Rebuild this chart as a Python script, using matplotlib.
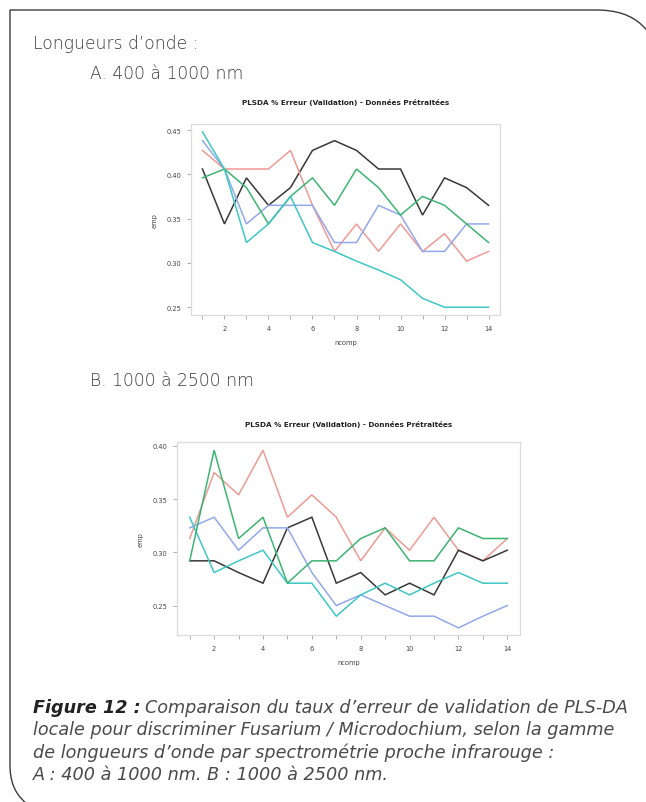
import matplotlib
matplotlib.use("Agg")
import matplotlib.pyplot as plt
from matplotlib.path import Path
from matplotlib.patches import PathPatch

# ---------------------------------------------------------------
# Data: validation error of PLS-DA per number of components
# ---------------------------------------------------------------
ncomp = list(range(1, 15))

# A. 400 - 1000 nm
a_black = [0.406, 0.344, 0.396, 0.365, 0.385, 0.427, 0.438, 0.427, 0.406, 0.406, 0.354, 0.396, 0.385, 0.365]
a_green = [0.396, 0.406, 0.385, 0.344, 0.375, 0.396, 0.365, 0.406, 0.385, 0.354, 0.375, 0.365, 0.344, 0.323]
a_red = [0.427, 0.406, 0.406, 0.406, 0.427, 0.365, 0.313, 0.344, 0.313, 0.344, 0.313, 0.333, 0.302, 0.313]
a_blue = [0.438, 0.406, 0.344, 0.365, 0.365, 0.365, 0.323, 0.323, 0.365, 0.354, 0.313, 0.313, 0.344, 0.344]
a_cyan = [0.448, 0.406, 0.323, 0.344, 0.375, 0.323, 0.313, 0.302, 0.292, 0.281, 0.260, 0.250, 0.250, 0.250]

# B. 1000 - 2500 nm
b_black = [0.292, 0.292, 0.281, 0.271, 0.323, 0.333, 0.271, 0.281, 0.260, 0.271, 0.260, 0.302, 0.292, 0.302]
b_green = [0.292, 0.396, 0.313, 0.333, 0.271, 0.292, 0.292, 0.313, 0.323, 0.292, 0.292, 0.323, 0.313, 0.313]
b_red = [0.313, 0.375, 0.354, 0.396, 0.333, 0.354, 0.333, 0.292, 0.323, 0.302, 0.333, 0.302, 0.292, 0.313]
b_blue = [0.323, 0.333, 0.302, 0.323, 0.323, 0.281, 0.250, 0.260, 0.250, 0.240, 0.240, 0.229, 0.240, 0.250]
b_cyan = [0.333, 0.281, 0.292, 0.302, 0.271, 0.271, 0.240, 0.260, 0.271, 0.260, 0.271, 0.281, 0.271, 0.271]

a_yticks = [0.25, 0.30, 0.35, 0.40, 0.45]
b_yticks = [0.25, 0.30, 0.35, 0.40]
xtick_labels = ["", "2", "", "4", "", "6", "", "8", "", "10", "", "12", "", "14"]

chart_title = "PLSDA % Erreur (Validation) - Données Prétraitées"

COLORS = {
    "red": "#ee9a96",
    "green": "#3cb472",
    "blue": "#93a8ec",
    "cyan": "#3ec7c4",
    "black": "#383838",
}

W, H = 646, 803
TXT = "#4a4a4a"
BODY_FONT = ["DejaVu Sans"]

fig = plt.figure(figsize=(W / 100, H / 100), dpi=100)
fig.patch.set_facecolor("white")
renderer = fig.canvas.get_renderer()


def px_rect(left, top, right, bottom):
    return [left / W, 1 - bottom / H, (right - left) / W, (bottom - top) / H]


def fit_width(txt, width_px):
    # rescale a text so that it spans the given number of pixels
    w = txt.get_window_extent(renderer=renderer).width
    txt.set_fontsize(txt.get_fontsize() * width_px / w)
    return txt


def draw_panel(rect, series, yticks, ylim, title_y):
    ax = fig.add_axes(rect)
    for key, vals in series:
        ax.plot(ncomp, vals, color=COLORS[key], lw=1.1, solid_joinstyle="miter")
    ax.set_xlim(0.48, 14.52)
    ax.set_ylim(*ylim)
    ax.set_xticks(ncomp)
    ax.set_xticklabels(xtick_labels)
    ax.set_yticks(yticks)
    ax.set_yticklabels([f"{v:.2f}" for v in yticks])
    for sp in ax.spines.values():
        sp.set_color("#dcdcdc")
        sp.set_linewidth(0.9)
    ax.tick_params(axis="both", length=3, width=0.7, color="#b0b0b0",
                   labelsize=4.8, labelcolor="#444444", pad=4)
    ax.set_xlabel("ncomp", fontsize=4.8, color="#444444", labelpad=6)
    ax.set_ylabel("emp", fontsize=4.8, color="#444444", labelpad=6)
    fig.text(rect[0] + rect[2] / 2, 1 - title_y / H, chart_title,
             fontsize=5.2, fontweight="bold", color="#222222",
             ha="center", va="center")
    return ax


draw_panel(px_rect(191, 125, 500, 316),
           [("black", a_black), ("red", a_red), ("blue", a_blue),
            ("green", a_green), ("cyan", a_cyan)],
           a_yticks, (0.2412, 0.4568), 103)

draw_panel(px_rect(177, 443, 520, 636),
           [("red", b_red), ("black", b_black), ("blue", b_blue),
            ("cyan", b_cyan), ("green", b_green)],
           b_yticks, (0.2223, 0.4037), 425)

# headings, one shared size
head_kw = dict(fontsize=10, color="#3a3a3a", family=BODY_FONT, fontweight=200,
               va="center")
h1 = fig.text(33 / W, 1 - 44 / H, "Longueurs d’onde :", **head_kw)
h2 = fig.text(90 / W, 1 - 74 / H, "A. 400 à 1000 nm", **head_kw)
h3 = fig.text(90 / W, 1 - 381 / H, "B. 1000 à 2500 nm", **head_kw)
sizes = [fit_width(h1, 152).get_fontsize(), fit_width(h2, 165).get_fontsize()]
head_size = sum(sizes) / len(sizes)
for h in (h1, h2, h3):
    h.set_fontsize(head_size)

# caption
cap_lines = [
    "Comparaison du taux d’erreur de validation de PLS-DA",
    "locale pour discriminer Fusarium / Microdochium, selon la gamme",
    "de longueurs d’onde par spectrométrie proche infrarouge :",
    "A : 400 à 1000 nm. B : 1000 à 2500 nm.",
]
cap_y = [708, 730.5, 753, 775.5]
cap_kw = dict(fontsize=10, color=TXT, family=BODY_FONT, fontweight=200,
              fontstyle="italic", va="center")

# second caption line sets the common size
probe = fig.text(33 / W, 1 - cap_y[1] / H, cap_lines[1], **cap_kw)
fit_width(probe, 582)
cap_kw["fontsize"] = probe.get_fontsize()
for txt, yy in zip(cap_lines[2:], cap_y[2:]):
    fig.text(33 / W, 1 - yy / H, txt, **cap_kw)

lead = fig.text(33 / W, 1 - cap_y[0] / H, "Figure 12 :",
                **{**cap_kw, "fontweight": "bold", "color": "#222222"})
bb = lead.get_window_extent(renderer=renderer)
fig.text((bb.x1 + 4) / W, 1 - cap_y[0] / H, cap_lines[0], **cap_kw)

# card outline: square top-left, rounded top-right and bottom-left
pts = [(52, 818), (26, 808), (10, 796), (10, 766),
       (10, 11), (596, 11),
       (636, 11), (656, 30), (664, 75)]
codes = [Path.MOVETO, Path.CURVE4, Path.CURVE4, Path.CURVE4,
         Path.LINETO, Path.LINETO,
         Path.CURVE4, Path.CURVE4, Path.CURVE4]
verts = [(x / W, 1 - y / H) for x, y in pts]
fig.add_artist(PathPatch(Path(verts, codes), transform=fig.transFigure,
                         facecolor="none", edgecolor="#3c3c3c", lw=1.0,
                         clip_on=False))

fig.savefig("out.png", dpi=100)
